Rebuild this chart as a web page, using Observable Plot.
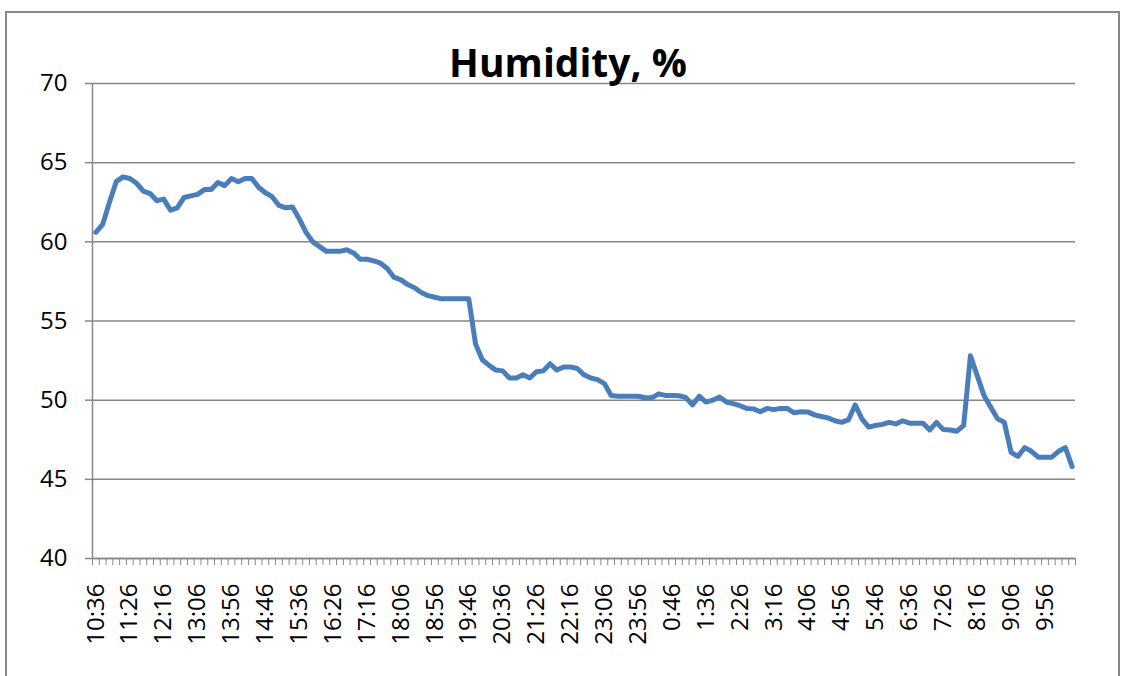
<!DOCTYPE html>
<html>
<head>
<meta charset="utf-8">
<script src="https://cdn.jsdelivr.net/npm/d3@7"></script>
<script src="https://cdn.jsdelivr.net/npm/@observablehq/plot@0.6"></script>
<style>
  html, body { margin: 0; padding: 0; background: #fff; overflow: hidden; }
  #wrap { position: relative; width: 1128px; height: 676px; }
  #border { position: absolute; left: 5px; top: 11px; width: 1115px; height: 720px; border: 2px solid #888; box-sizing: border-box; }
  #title { position: absolute; left: 0; top: 42px; width: 1136px; text-align: center; font: bold 39px "Open Sans", sans-serif; line-height: 1; color: #000; z-index: 2; }
  #chart { position: absolute; left: 0; top: 0; }
  #chart svg text { font-family: "Open Sans", sans-serif; }
</style>
</head>
<body>
<div id="wrap">
  <div id="border"></div>
  <div id="title">Humidity, %</div>
  <div id="chart"></div>
</div>
<script>
const times = [
  "10:36","10:46","10:56",
  "11:06","11:16","11:26","11:36","11:46","11:56",
  "12:06","12:16","12:26","12:36","12:46","12:56",
  "13:06","13:16","13:26","13:36","13:46","13:56",
  "14:06","14:16","14:26","14:36","14:46","14:56",
  "15:06","15:16","15:26","15:36","15:46","15:56",
  "16:06","16:16","16:26","16:36","16:46","16:56",
  "17:06","17:16","17:26","17:36","17:46","17:56",
  "18:06","18:16","18:26","18:36","18:46","18:56",
  "19:06","19:16","19:26","19:36","19:46","19:56",
  "20:06","20:16","20:26","20:36","20:46","20:56",
  "21:06","21:16","21:26","21:36","21:46","21:56",
  "22:06","22:16","22:26","22:36","22:46","22:56",
  "23:06","23:16","23:26","23:36","23:46","23:56",
  "0:06","0:16","0:26","0:36","0:46","0:56",
  "1:06","1:16","1:26","1:36","1:46","1:56",
  "2:06","2:16","2:26","2:36","2:46","2:56",
  "3:06","3:16","3:26","3:36","3:46","3:56",
  "4:06","4:16","4:26","4:36","4:46","4:56",
  "5:06","5:16","5:26","5:36","5:46","5:56",
  "6:06","6:16","6:26","6:36","6:46","6:56",
  "7:06","7:16","7:26","7:36","7:46","7:56",
  "8:06","8:16","8:26","8:36","8:46","8:56",
  "9:06","9:16","9:26","9:36","9:46","9:56",
  "10:06","10:16","10:26","10:36"
];

const humidity = [
  60.6, 61.1, 62.5, 63.8, 64.1, 64.0, 63.7, 63.2, 63.05, 62.6,
  62.7, 62.0, 62.15, 62.8, 62.9, 63.0, 63.3, 63.3, 63.75, 63.55,
  64.0, 63.8, 64.0, 64.0, 63.45, 63.1, 62.85, 62.3, 62.15, 62.2,
  61.45, 60.6, 60.0, 59.7, 59.4, 59.4, 59.4, 59.5, 59.3, 58.9,
  58.9, 58.8, 58.65, 58.3, 57.75, 57.6, 57.3, 57.1, 56.8, 56.6,
  56.5, 56.4, 56.4, 56.4, 56.4, 56.4, 53.55, 52.55, 52.2, 51.9,
  51.85, 51.4, 51.4, 51.6, 51.4, 51.8, 51.85, 52.3, 51.9, 52.1,
  52.1, 52.0, 51.6, 51.4, 51.3, 51.05, 50.3, 50.25, 50.25, 50.25,
  50.25, 50.15, 50.15, 50.4, 50.3, 50.3, 50.28, 50.18, 49.7, 50.25,
  49.88, 50.0, 50.2, 49.88, 49.78, 49.65, 49.48, 49.45, 49.27, 49.48,
  49.4, 49.48, 49.47, 49.2, 49.27, 49.26, 49.07, 48.97, 48.88, 48.7,
  48.6, 48.75, 49.7, 48.82, 48.3, 48.4, 48.47, 48.6, 48.5, 48.7,
  48.55, 48.55, 48.55, 48.12, 48.6, 48.14, 48.12, 48.04, 48.4, 52.8,
  51.55, 50.3, 49.55, 48.82, 48.6, 46.7, 46.45, 47.0, 46.77, 46.4,
  46.4, 46.4, 46.77, 47.0, 45.8
];

const yTicks = [40, 45, 50, 55, 60, 65, 70];
const labelEvery = 5;

const data = humidity.map((v, i) => ({i, t: times[i], v}));
const n = times.length;
const boundaries = d3.range(0, n + 1);
const labelPos = d3.range(0, n, labelEvery).map(i => i + 0.5);

const gray = "#868686";

const chart = Plot.plot({
  width: 1128,
  height: 676,
  marginLeft: 92,
  marginRight: 53,
  marginTop: 83,
  marginBottom: 118,
  style: {fontFamily: "'Open Sans', sans-serif", fontSize: "24px", color: "#000", background: "transparent"},
  x: {type: "linear", domain: [0, n]},
  y: {domain: [40, 70]},
  marks: [
    Plot.gridY(yTicks, {stroke: gray, strokeOpacity: 1, strokeWidth: 1.5}),
    Plot.axisY(yTicks, {tickSize: 7, tickPadding: 18, stroke: gray, strokeWidth: 1.5, fill: "#000", fontSize: 24, label: null}),
    Plot.axisX(boundaries, {tickSize: 7, tickFormat: () => "", stroke: gray, strokeWidth: 1, label: null}),
    Plot.axisX(labelPos, {tickSize: 0, tickPadding: 25, tickRotate: -90, textAnchor: "end",
      tickFormat: d => times[d - 0.5], fill: "#000", fontSize: 24, label: null}),
    Plot.ruleX([0], {stroke: gray, strokeWidth: 1.5}),
    Plot.ruleY([40], {stroke: gray, strokeWidth: 1.5}),
    Plot.line(data, {x: d => d.i + 0.5, y: "v", stroke: "#4a7ebb", strokeWidth: 5, strokeLinejoin: "round", strokeLinecap: "round"})
  ]
});
document.getElementById("chart").appendChild(chart);
</script>
</body>
</html>
